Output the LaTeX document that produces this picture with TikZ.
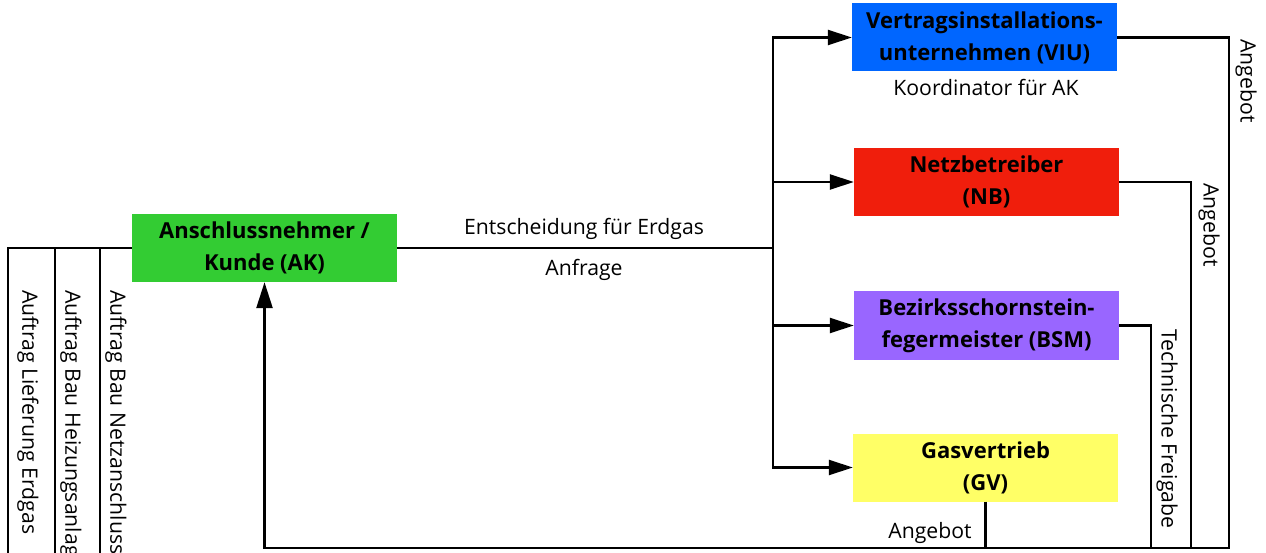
\documentclass[tikz,border=0pt]{standalone}
\usepackage{fontspec}
\setmainfont{Open Sans}
\usetikzlibrary{arrows.meta,positioning}
\definecolor{akgreen}{HTML}{33CC33}
\definecolor{viublue}{HTML}{0066FF}
\definecolor{nbred}{HTML}{F01E0C}
\definecolor{bsmpurple}{HTML}{9966FF}
\definecolor{gvyellow}{HTML}{FFFF66}
\tikzset{
  boxnode/.style={minimum width=265pt, minimum height=68pt, inner sep=0pt, align=center,
    font=\fontsize{22}{32}\selectfont\bfseries},
  lbl/.style={inner sep=0pt, font=\fontsize{21.2}{25}\selectfont},
  conn/.style={line width=2.5pt},
  arr/.style={line width=2.5pt, -{Triangle[length=24pt,width=15pt]}},
}
\begin{document}
\begin{tikzpicture}[x=1pt,y=-1pt]
\useasboundingbox (0,0) rectangle (1266,553);
% boxes
\node[boxnode, fill=akgreen] (ak) at (264.5,248) {Anschlussnehmer /\\Kunde (AK)};
\node[boxnode, fill=viublue] (viu) at (984.5,37.5) {Vertragsinstallations-\\unternehmen (VIU)};
\node[boxnode, fill=nbred] (nb) at (986.5,182) {Netzbetreiber\\(NB)};
\node[boxnode, fill=bsmpurple] (bsm) at (986.5,325.5) {Bezirksschornstein-\\fegermeister (BSM)};
\node[boxnode, fill=gvyellow] (gv) at (985.5,467.5) {Gasvertrieb\\(GV)};
% coordinates
\coordinate (j) at (773,248);
\coordinate (c1) at (1229,548);
\coordinate (c2) at (1191,548);
\coordinate (c3) at (1151,548);
\coordinate (l1) at (8,570);
\coordinate (l2) at (55,570);
\coordinate (l3) at (100,570);
% main connectors
\draw[conn] (ak.east) -- (j);
\draw[arr] (j) |- (viu.west);
\draw[arr] (j) |- (nb.west);
\draw[arr] (j) |- (bsm.west);
\draw[arr] (j) |- (gv.west);
% left lines
\draw[conn] (ak.west) -| (l1);
\draw[conn] (ak.west -| l2) -- (l2);
\draw[conn] (ak.west -| l3) -- (l3);
% return lines
\draw[line width=2.5pt, -{Triangle[length=26pt,width=16pt]}] (viu.east) -| (c1) -- (ak.south |- c1) -- (ak.south);
\draw[conn] (nb.east) -| (c2);
\draw[conn] (bsm.east) -| (c3);
\draw[conn] (gv.south) -- (gv.south |- c1);
% labels
\node[lbl] (t1) at (584,229) {Entscheidung für Erdgas};
\node[lbl] (t2) at (584,270) {Anfrage};
\node[lbl] (t3) at (986,87) {Koordinator für AK};
\node[lbl, rotate=-90] (t4) at (1246,81) {Angebot};
\node[lbl, rotate=-90] (t5) at (1209,225) {Angebot};
\node[lbl, rotate=-90] (t6) at (1167,429) {Technische Freigabe};
\node[lbl] (t7) at (930,533) {Angebot};
\node[lbl, rotate=-90, anchor=west] (t8) at (28,290) {Auftrag Lieferung Erdgas};
\node[lbl, rotate=-90, anchor=west] (t9) at (71,290) {Auftrag Bau Heizungsanlage};
\node[lbl, rotate=-90, anchor=west] (t10) at (116,290) {Auftrag Bau Netzanschluss};
\end{tikzpicture}
\end{document}
